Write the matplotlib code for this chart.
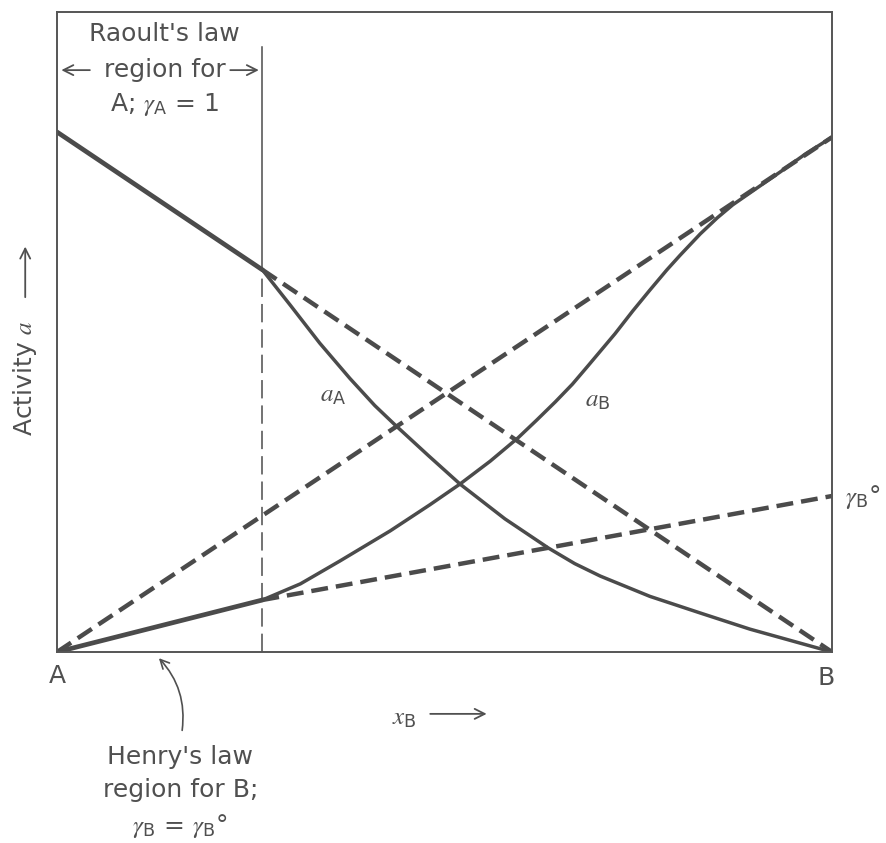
import matplotlib
matplotlib.use("Agg")
from matplotlib import pyplot as plt

plt.rcParams['font.family'] = ['DejaVu Sans']
plt.rcParams['mathtext.fontset'] = 'custom'
plt.rcParams['mathtext.rm'] = 'DejaVu Sans'
plt.rcParams['mathtext.it'] = 'STIXGeneral:italic'

# mole fraction of B and the activities
x_raoult_a = 0.265   # edge of the Raoult's-law region for A
xA = [0.0, 0.265, 0.301, 0.339, 0.378, 0.410, 0.436, 0.479, 0.520, 0.578,
      0.634, 0.668, 0.701, 0.765, 0.830, 0.894, 0.959, 1.0]
aA = [1.0, 0.735, 0.667, 0.594, 0.526, 0.474, 0.437, 0.378, 0.323, 0.256,
      0.200, 0.170, 0.146, 0.107, 0.075, 0.044, 0.017, 0.0]
xB = [0.0, 0.265, 0.314, 0.365, 0.430, 0.481, 0.520, 0.559, 0.595, 0.619,
      0.643, 0.665, 0.685, 0.720, 0.743, 0.765, 0.787, 0.804, 0.830, 0.852,
      0.872, 0.901, 0.933, 0.966, 1.0]
aB = [0.0, 0.100, 0.131, 0.175, 0.233, 0.283, 0.323, 0.367, 0.412, 0.446,
      0.481, 0.515, 0.550, 0.612, 0.656, 0.696, 0.735, 0.763, 0.804, 0.835,
      0.860, 0.890, 0.923, 0.958, 0.990]
gammaB_inf = 0.30    # Henry's-law line value at x_B = 1

ink = '#4b4b4b'
txt = '#505050'

fig = plt.figure(figsize=(8.86, 8.43), dpi=100)
ax = fig.add_axes([57/886, 1 - 652/843, 775/886, 640/843])
ax.set_xlim(0, 1)
ax.set_ylim(0, 640/520)
ax.set_xticks([])
ax.set_yticks([])
for s in ax.spines.values():
    s.set_color('#555555')
    s.set_linewidth(1.4)

thick = 3.2
dash = (3.8, 1.8)

# ideal (Raoult) lines and Henry's law line
ax.plot([x_raoult_a, 1.0], [aA[1], 0.0], color=ink, lw=thick, dashes=dash)
ax.plot([0.0, 1.0], [0.0, aB[-1]], color=ink, lw=thick, dashes=dash)
ax.plot([x_raoult_a, 1.0], [aB[1], gammaB_inf], color=ink, lw=thick, dashes=dash)

# activity curves: straight limiting parts, then the curved parts
ax.plot(xA[:2], aA[:2], color=ink, lw=3.4, solid_capstyle='round')
ax.plot(xA[1:], aA[1:], color=ink, lw=2.5, solid_joinstyle='round')
ax.plot(xB[:2], aB[:2], color=ink, lw=3.4, solid_capstyle='round')
ax.plot(xB[1:], aB[1:], color=ink, lw=2.5, solid_joinstyle='round')

# boundary of the Raoult region
ax.plot([x_raoult_a, x_raoult_a], [aA[1], 1.163], color=ink, lw=1.1)
ax.plot([x_raoult_a, x_raoult_a], [0, aA[1]], color=ink, lw=1.1, dashes=(12, 4.6))

fs = 18
kw = dict(color=txt, fontsize=fs, clip_on=False)
ax.text(0.139, 1.188, "Raoult's law", ha='center', va='center', **kw)
ax.text(0.139, 1.119, "region for", ha='center', va='center', **kw)
ax.text(0.139, 1.052, r"A; $\gamma_{\mathrm{A}}$ = 1", ha='center', va='center', **kw)
arr = dict(arrowstyle='->', color=txt, lw=1.3, mutation_scale=18)
ax.annotate('', xy=(0.002, 1.119), xytext=(0.046, 1.119), arrowprops=arr,
            annotation_clip=False)
ax.annotate('', xy=(0.264, 1.119), xytext=(0.220, 1.119), arrowprops=arr,
            annotation_clip=False)

ax.text(-0.041, 0.527, r"Activity $a$", rotation=90, ha='center', va='center', **kw)
ax.annotate('', xy=(-0.041, 0.785), xytext=(-0.041, 0.677), arrowprops=arr,
            annotation_clip=False)
ax.text(0.448, -0.127, r"$x_{\mathrm{B}}$", ha='center', va='center', **kw)
ax.annotate('', xy=(0.558, -0.119), xytext=(0.478, -0.119), arrowprops=arr,
            annotation_clip=False)

ax.text(0.0, -0.046, "A", ha='center', va='center', **kw)
ax.text(0.992, -0.050, "B", ha='center', va='center', **kw)
ax.text(1.017, 0.298, r"$\gamma_{\mathrm{B}}$°", ha='left', va='center', **kw)
ax.text(0.339, 0.494, r"$a_{\mathrm{A}}$", ha='left', va='center', **kw)
ax.text(0.681, 0.485, r"$a_{\mathrm{B}}$", ha='left', va='center', **kw)

ax.text(0.159, -0.202, "Henry's law", ha='center', va='center', **kw)
ax.text(0.159, -0.265, "region for B;", ha='center', va='center', **kw)
ax.text(0.159, -0.335, r"$\gamma_{\mathrm{B}}$ = $\gamma_{\mathrm{B}}$°",
        ha='center', va='center', **kw)
ax.annotate('', xy=(0.129, -0.008), xytext=(0.161, -0.156),
            arrowprops=dict(arrowstyle='->', color=txt, lw=1.2, mutation_scale=16,
                            connectionstyle='arc3,rad=0.25'),
            annotation_clip=False)

fig.savefig('out.png', dpi=100, facecolor='white')
